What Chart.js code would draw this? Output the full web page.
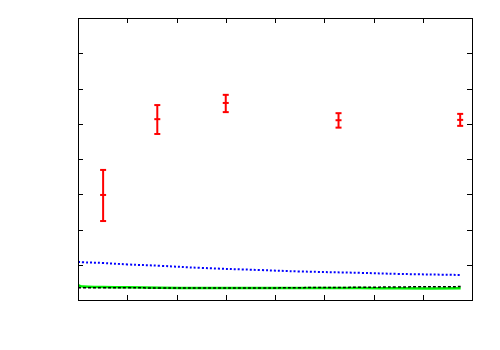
<!DOCTYPE html>
<html lang="en">
<head>
<meta charset="UTF-8">
<script src="https://cdn.jsdelivr.net/npm/chart.js"></script>
<title>Error bars</title>
<style>
  html, body { margin: 0; padding: 0; background: #fff; }
  #wrap { width: 500px; height: 350px; }
</style>
</head>
<body>
<div id="wrap"><canvas id="grafico"></canvas></div>
<script>
// measured points with error bars
const errX = [0.51, 1.61, 3.0, 5.29, 7.76];
const errY = [2.98, 5.13, 5.59, 5.10, 5.11];
const errLow = [2.24, 4.71, 5.33, 4.89, 4.94];
const errHigh = [3.69, 5.53, 5.82, 5.30, 5.28];

// model curves
const curveX = [0, 0.1, 0.5, 1, 1.67, 2.5, 3.7, 4.5, 5.73, 6.5, 7.77];
const blueY = [1.08, 1.07, 1.05, 1.01, 0.97, 0.91, 0.85, 0.81, 0.77, 0.74, 0.71];
const blackY = [0.35, 0.35, 0.35, 0.35, 0.34, 0.34, 0.34, 0.35, 0.36, 0.37, 0.38];
const greenY = [0.42, 0.38, 0.37, 0.36, 0.35, 0.34, 0.34, 0.34, 0.34, 0.33, 0.33];

const xTicks = [0, 1, 2, 3, 4, 5, 6, 7, 8];
const yTicks = [0, 1, 2, 3, 4, 5, 6, 7, 8];

const datasets = [];
errX.forEach((x, i) => {
  datasets.push({
    data: [{x: x, y: errLow[i]}, {x: x, y: errY[i]}, {x: x, y: errHigh[i]}],
    borderColor: '#ff0000',
    borderWidth: 2,
    pointStyle: 'line',
    pointRadius: 3,
    pointBorderWidth: 2,
    pointBorderColor: '#ff0000',
    showLine: true
  });
});

function curve(ys, color, width, dash) {
  return {
    data: curveX.map((x, i) => ({x: x, y: ys[i]})),
    borderColor: color,
    borderWidth: width,
    borderDash: dash,
    pointRadius: 0,
    tension: 0.4,
    showLine: true
  };
}
datasets.push(curve(blackY, '#000000', 1.5, [3, 2]));
datasets.push(curve(greenY, '#00ee00', 2.5, []));
datasets.push(curve(blueY, '#0000ff', 2, [2, 2]));

const frame = {
  id: 'frame',
  afterDraw(chart) {
    const ctx = chart.ctx;
    const a = chart.chartArea;
    const sx = chart.scales.x, sy = chart.scales.y;
    ctx.save();
    ctx.strokeStyle = '#000';
    ctx.lineWidth = 1;
    ctx.beginPath();
    xTicks.forEach(t => {
      const px = Math.round(sx.getPixelForValue(t)) + 0.5;
      ctx.moveTo(px, a.bottom); ctx.lineTo(px, a.bottom - 5);
      ctx.moveTo(px, a.top); ctx.lineTo(px, a.top + 5);
    });
    yTicks.forEach(t => {
      const py = Math.round(sy.getPixelForValue(t)) + 0.5;
      ctx.moveTo(a.left, py); ctx.lineTo(a.left + 5, py);
      ctx.moveTo(a.right, py); ctx.lineTo(a.right - 5, py);
    });
    ctx.stroke();
    ctx.strokeRect(Math.round(a.left) + 0.5, Math.round(a.top) + 0.5,
      Math.round(a.right - a.left), Math.round(a.bottom - a.top));
    ctx.restore();
  }
};

new Chart(document.getElementById('grafico'), {
  type: 'scatter',
  data: { datasets: datasets },
  options: {
    responsive: true,
    maintainAspectRatio: false,
    animation: false,
    layout: { padding: { left: 78, right: 28, top: 18, bottom: 50 } },
    plugins: { legend: { display: false }, tooltip: { enabled: false } },
    scales: {
      x: { type: 'linear', min: 0, max: 8, display: false },
      y: { type: 'linear', min: 0, max: 8, display: false }
    }
  },
  plugins: [frame]
});
</script>
</body>
</html>
